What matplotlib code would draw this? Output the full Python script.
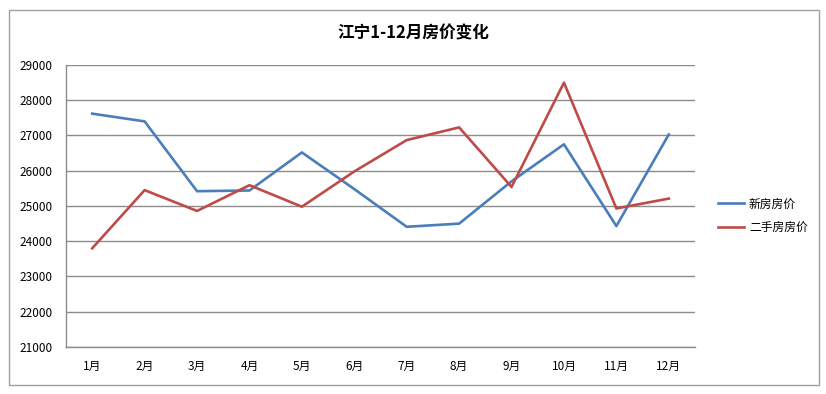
import matplotlib.pyplot as plt
from matplotlib.patches import Rectangle

plt.rcParams['font.family'] = ['Noto Sans CJK SC', 'DejaVu Sans']

months = ['1月', '2月', '3月', '4月', '5月', '6月', '7月', '8月', '9月', '10月', '11月', '12月']
new_price = [27620, 27400, 25420, 25440, 26520, 25480, 24410, 24500, 25700, 26750, 24430, 27030]
second_price = [23800, 25450, 24860, 25590, 24980, 25980, 26870, 27230, 25540, 28500, 24930, 25210]
y_ticks = [21000, 22000, 23000, 24000, 25000, 26000, 27000, 28000, 29000]

fig = plt.figure(figsize=(8.26, 3.94), dpi=100)
ax = fig.add_axes([66 / 826, 1 - 347 / 394, 629 / 826, 282 / 394])

# outer chart frame like the excel chart area
fig.patches.append(Rectangle((9 / 826, 1 - 385 / 394), 810 / 826, 375 / 394,
                             transform=fig.transFigure, fill=False,
                             edgecolor='#a0a0a0', linewidth=1))

x = list(range(len(months)))
ax.plot(x, new_price, color='#4a7ebb', linewidth=1.9, label='新房房价')
ax.plot(x, second_price, color='#be4b48', linewidth=1.9, label='二手房房价')

ax.set_xlim(-0.5, 11.5)
ax.set_ylim(21000, 29000)
ax.set_yticks(y_ticks)
ax.set_yticklabels([str(v) for v in y_ticks])
ax.set_xticks(x)
ax.set_xticklabels(months)
ax.tick_params(axis='both', length=0, labelsize=8.5, colors='black')
ax.tick_params(axis='x', pad=9)
ax.tick_params(axis='y', pad=10)

ax.grid(axis='y', color='#8c8c8c', linewidth=1)
ax.set_axisbelow(True)
for s in ['top', 'right']:
    ax.spines[s].set_visible(False)
for s in ['left', 'bottom']:
    ax.spines[s].set_color('#8c8c8c')
    ax.spines[s].set_linewidth(1)

fig.text(413 / 826, 1 - 33 / 394, '江宁1-12月房价变化', ha='center', va='center',
         fontsize=12, fontweight='bold')

ax.legend(loc='center left', bbox_to_anchor=(1.02, 0.465), frameon=False,
          fontsize=8.5, handlelength=2.2, handletextpad=0.4, labelspacing=0.9)

fig.savefig('out.png', dpi=100)
